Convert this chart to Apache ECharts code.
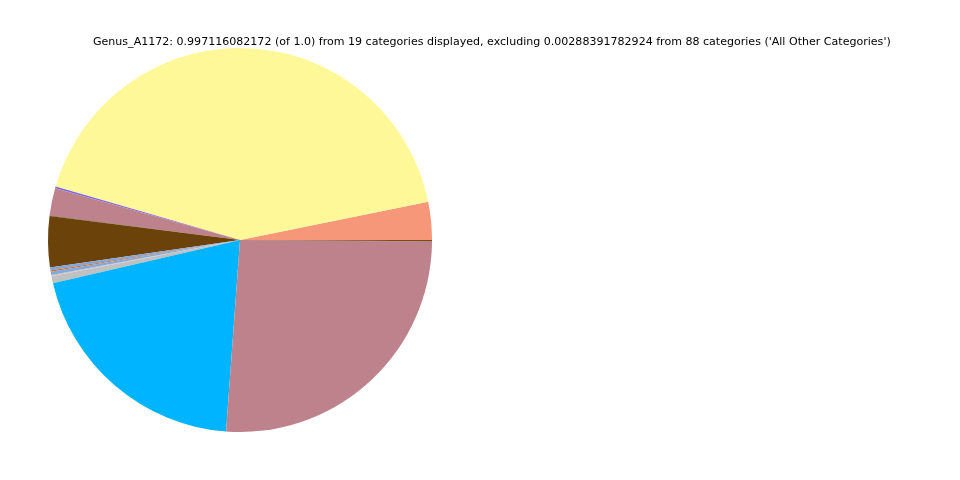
<!DOCTYPE html>
<html>
<head>
<meta charset="utf-8">
<script src="https://cdn.jsdelivr.net/npm/echarts@6/dist/echarts.min.js"></script>
<style>html,body{margin:0;padding:0;background:#fff}#c{width:960px;height:480px}</style>
</head>
<body>
<div id="c"></div>
<script>
const titleText = "Genus_A1172: 0.997116082172 (of 1.0) from 19 categories displayed, excluding 0.00288391782924 from 88 categories ('All Other Categories')";
const categories = ["Cat 1","Cat 2","Cat 3","Cat 4","Cat 5","Cat 6","Cat 7","Cat 8","Cat 9","Cat 10","Cat 11","Cat 12","Cat 13","Cat 14","Cat 15","Cat 16","Cat 17","Cat 18","Cat 19"];
const values = [11.5, 152.4, 0.5, 8.3, 0.2, 15.4, 0.9, 0.4, 1.0, 0.08, 0.08, 0.08, 0.08, 2.2, 72.8, 93.7, 0.05, 0.05, 0.4];
const colors = ["#F7977A","#FFF899","#7B68EE","#BD828C","#5B4A2A","#6B420A","#7EA6E0","#D2691E","#82A8DC","#A0A0A0","#B0B0B0","#9DB7DD","#C8C8C8","#C0C0C0","#00B4FF","#BD828C","#8B5A2B","#7A5230","#7A4A1E"];

const chart = echarts.init(document.getElementById('c'), null, {renderer: 'canvas'});
chart.setOption({
  animation: false,
  title: {
    text: titleText,
    left: 88, top: 32,
    textStyle: {fontFamily: 'DejaVu Sans', fontSize: 11.05, fontWeight: 'normal', color: '#000'}
  },
  series: [{
    type: 'pie',
    center: [240, 240],
    radius: 192,
    startAngle: 0,
    clockwise: false,
    avoidLabelOverlap: false,
    label: {show: false},
    labelLine: {show: false},
    emphasis: {disabled: true},
    itemStyle: {borderWidth: 0},
    data: categories.map((n, i) => ({name: n, value: values[i], itemStyle: {color: colors[i]}}))
  }]
});
</script>
</body>
</html>
